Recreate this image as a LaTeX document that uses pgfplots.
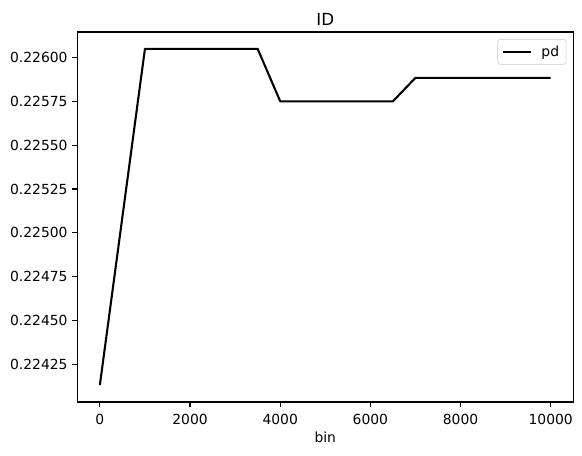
\documentclass[border=0pt]{standalone}
\usepackage{fontspec}
\setmainfont{DejaVu Sans}
\usepackage{pgfplots}
\pgfplotsset{compat=1.18}
\begin{document}
\begin{tikzpicture}
\useasboundingbox (-55.66pt,-38.16pt) rectangle (363.38pt,289.44pt);
\begin{axis}[
  at={(0,0)}, anchor=south west,
  scale only axis, width=357.1pt, height=266.4pt,
  xmin=-500, xmax=10500,
  ymin=0.224036, ymax=0.226145,
  axis line style={line width=0.8pt},
  tick style={line width=0.8pt, black},
  major tick length=3.5pt,
  tick align=outside,
  xtick={0,2000,4000,6000,8000,10000},
  ytick={0.22425,0.2245,0.22475,0.225,0.22525,0.2255,0.22575,0.226},
  xtick pos=bottom, ytick pos=left,
  scaled x ticks=false, scaled y ticks=false,
  x tick label style={/pgf/number format/set thousands separator={}, /pgf/number format/assume math mode=true, yshift=-2pt},
  y tick label style={/pgf/number format/fixed, /pgf/number format/fixed zerofill, /pgf/number format/precision=5, /pgf/number format/assume math mode=true},
  tick label style={font=\fontsize{10}{12}\selectfont},
  title={ID},
  title style={font=\fontsize{12}{14}\selectfont, yshift=-5pt},
  xlabel={bin},
  xlabel style={font=\fontsize{10}{12}\selectfont, yshift=2pt},
  legend style={at={(1,1)}, anchor=north east, xshift=-5pt, yshift=-5pt,
    draw=black!20, rounded corners=2pt, font=\fontsize{10}{12}\selectfont,
    inner xsep=3pt, inner ysep=2.5pt},
  legend cell align=left,
  legend image code/.code={\draw[#1] (0pt,0pt) -- (20pt,0pt);},
]
\addplot[black, line width=1.5pt, line join=round] coordinates {
(0,0.224132) (1000,0.226049) (3500,0.226049) (4000,0.225750) (6500,0.225750) (7000,0.225884) (10000,0.225884)
};
\addlegendentry{\hspace{5pt}pd}
\end{axis}
\end{tikzpicture}
\end{document}
